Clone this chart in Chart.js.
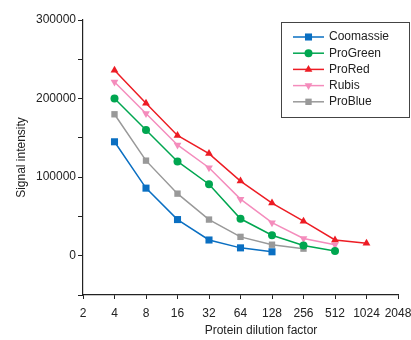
<!DOCTYPE html>
<html>
<head>
<meta charset="utf-8">
<script src="https://cdn.jsdelivr.net/npm/chart.js@4.4.1/dist/chart.umd.min.js"></script>
<style>
  html, body { margin: 0; padding: 0; background: #fff; }
  #wrap { width: 411px; height: 340px; position: relative; }
</style>
</head>
<body>
<div id="wrap"><canvas id="dilution-chart"></canvas></div>
<script>
// dilution factors (x) and signal per stain (y)
let dilutions = [4, 8, 16, 32, 64, 128, 256, 512, 1024];
let xTicks = [2, 4, 8, 16, 32, 64, 128, 256, 512, 1024, 2048];

let coomassie = [145000, 86000, 46000, 20000, 10000, 5000];
let proGreen = [200000, 160000, 120000, 91000, 47000, 26000, 13000, 6000];
let proRed = [236000, 194000, 153000, 130000, 95000, 67000, 44000, 20000, 16000];
let rubis = [221000, 181000, 141000, 112000, 72000, 42000, 22000, 14000];
let proBlue = [180000, 121000, 79000, 46000, 24000, 14000, 9000];

let seriesNames = ['Coomassie', 'ProGreen', 'ProRed', 'Rubis', 'ProBlue'];
let seriesColors = ['#0a6fc2', '#00a650', '#ed1c24', '#f48cbc', '#999999'];

let toPoints = (vals) => vals.map((v, i) => ({ x: dilutions[i], y: v }));

// legend box drawn inside the plot (line + marker per row)
let boxLegend = {
  id: 'boxLegend',
  afterDraw(chart) {
    const ctx = chart.ctx;
    ctx.save();
    ctx.strokeStyle = '#444';
    ctx.lineWidth = 1;
    ctx.strokeRect(281.5, 22.5, 128, 95);
    ctx.font = '12px "Liberation Sans", Arial, sans-serif';
    ctx.textBaseline = 'middle';
    chart.data.datasets.forEach((ds, i) => {
      const y = 37 + i * 16.2;
      ctx.strokeStyle = ds.borderColor;
      ctx.lineWidth = 1.5;
      ctx.beginPath();
      ctx.moveTo(293, y);
      ctx.lineTo(324, y);
      ctx.stroke();
      ctx.fillStyle = ds.backgroundColor;
      Chart.helpers.drawPoint(ctx, {
        pointStyle: ds.pointStyle,
        radius: ds.pointRadius,
        rotation: ds.pointRotation || 0,
        borderWidth: 0
      }, 308.5, y);
      ctx.fillStyle = '#222';
      ctx.fillText(ds.label, 329, y);
    });
    // x axis title
    ctx.textAlign = 'center';
    ctx.fillText('Protein dilution factor', 261, 331);
    ctx.restore();
  }
};

let renderChart = () => {
  let canvas = document.getElementById('dilution-chart');
  let allSeries = [coomassie, proGreen, proRed, rubis, proBlue];
  let styles = ['rect', 'circle', 'triangle', 'triangle', 'rect'];
  let radii = [5, 4, 4.5, 4.5, 4.5];

  new Chart(canvas, {
    type: 'line',
    data: {
      datasets: allSeries.map((vals, i) => ({
        label: seriesNames[i],
        data: toPoints(vals),
        borderColor: seriesColors[i],
        backgroundColor: seriesColors[i],
        borderWidth: 1.5,
        pointStyle: styles[i],
        pointRadius: radii[i],
        pointRotation: i === 3 ? 180 : 0,
        pointBorderWidth: 0,
        tension: 0
      }))
    },
    options: {
      responsive: true,
      maintainAspectRatio: false,
      animation: false,
      layout: { padding: { top: 20, right: 13, left: 0, bottom: 0 } },
      plugins: {
        legend: { display: false },
        tooltip: { enabled: false }
      },
      scales: {
        x: {
          type: 'logarithmic',
          min: 2,
          max: 2048,
          afterBuildTicks: (scale) => {
            scale.ticks = xTicks.map(v => ({ value: v }));
          },
          afterFit: (scale) => {
            scale.height = 45;
            scale.paddingRight = 13;
          },
          border: { color: '#222', width: 1.2 },
          grid: { drawOnChartArea: false, drawTicks: true, tickLength: 4, color: '#222' },
          ticks: {
            color: '#222',
            padding: 7,
            maxRotation: 0,
            autoSkip: false,
            font: { size: 12, family: '"Liberation Sans", Arial, sans-serif' },
            callback: (v) => String(v)
          }
        },
        y: {
          min: -50000,
          max: 300000,
          afterFit: (scale) => { scale.width = 83; },
          border: { color: '#222', width: 1.2 },
          grid: { drawOnChartArea: false, drawTicks: true, tickLength: 5, color: '#222' },
          title: {
            display: true,
            text: 'Signal intensity',
            color: '#222',
            padding: { top: 14, bottom: 0 },
            font: { size: 12, family: '"Liberation Sans", Arial, sans-serif' }
          },
          ticks: {
            stepSize: 50000,
            color: '#222',
            padding: 2,
            font: { size: 12, family: '"Liberation Sans", Arial, sans-serif' },
            callback: (v) => (v % 100000 === 0 ? String(v) : '')
          }
        }
      }
    },
    plugins: [boxLegend]
  });
};

renderChart();
</script>
</body>
</html>
